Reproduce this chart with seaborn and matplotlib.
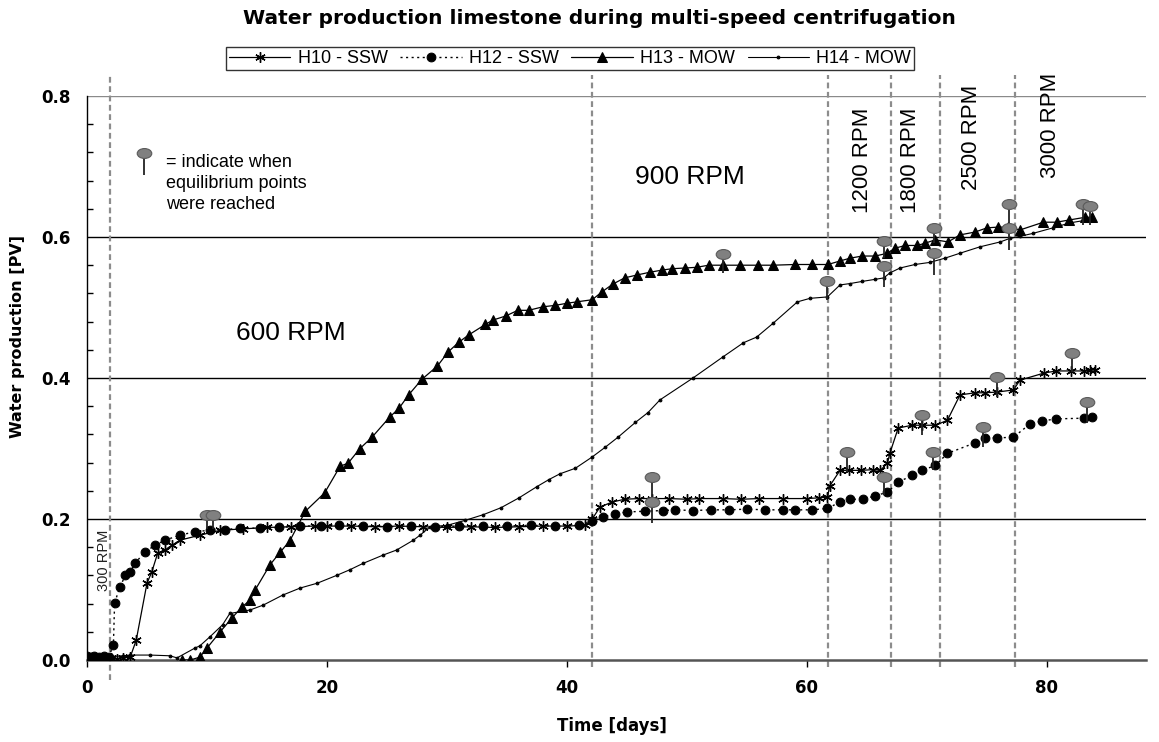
import numpy as np
import pandas as pd
import matplotlib
matplotlib.use("Agg")
import matplotlib.pyplot as plt
import seaborn as sns
from matplotlib.path import Path

# ---------------- data ----------------
h10_days = [0, 0.5, 1.0, 1.5, 2.0, 2.5, 3.0, 3.6, 4.1, 5.0, 5.4, 5.9, 6.5, 7.1, 7.75, 9.4, 11.1, 13, 15, 17,
            19, 20, 22, 24, 26, 28, 30, 32, 34, 36, 38, 40, 41.5, 42.1, 42.75, 43.75, 44.8, 46, 47.1, 48.5,
            50, 51, 53, 54.5, 56, 58, 60, 61, 61.7, 61.9, 62.75, 63.5, 64.5, 65.5, 66.1, 66.7, 66.9, 67.6,
            68.75, 69.6, 70.7, 71.7, 72.75, 74.0, 74.8, 75.8, 77.2, 77.75, 79.75, 80.75, 82.0, 83.1, 83.6, 84.0]
h10_pv = [0.003, 0.003, 0.002, 0.003, 0.003, 0.002, 0.003, 0.004, 0.028, 0.109, 0.125, 0.152, 0.156, 0.163,
          0.170, 0.177, 0.184, 0.186, 0.188, 0.189, 0.190, 0.190, 0.190, 0.189, 0.190, 0.189, 0.188, 0.189,
          0.188, 0.189, 0.190, 0.190, 0.191, 0.200, 0.217, 0.224, 0.228, 0.229, 0.229, 0.229, 0.228, 0.229,
          0.229, 0.228, 0.229, 0.229, 0.229, 0.230, 0.231, 0.247, 0.269, 0.269, 0.269, 0.270, 0.269, 0.279,
          0.293, 0.329, 0.333, 0.333, 0.333, 0.340, 0.376, 0.379, 0.379, 0.380, 0.383, 0.397, 0.407, 0.410,
          0.410, 0.410, 0.411, 0.412]

h12_days = [0, 0.3, 0.6, 1.0, 1.4, 1.8, 2.2, 2.3, 2.75, 3.2, 3.6, 4.0, 4.8, 5.7, 6.5, 7.75, 9.0, 10.25, 11.5,
            12.75, 14.4, 16, 17.75, 19.5, 21, 23, 25, 27, 29, 31, 33, 35, 37, 39, 41, 42.1, 43, 44, 45, 46.5,
            48, 49, 50.5, 52, 53.5, 55, 56.5, 58, 59, 60.4, 61.7, 62.75, 63.6, 64.7, 65.7, 66.7, 67.6, 68.75,
            69.6, 70.7, 71.7, 74.0, 74.8, 75.8, 77.2, 78.6, 79.6, 80.75, 83.1, 83.75]
h12_pv = [0.005, 0.004, 0.006, 0.004, 0.005, 0.004, 0.021, 0.081, 0.104, 0.120, 0.125, 0.137, 0.153, 0.163,
          0.170, 0.177, 0.182, 0.184, 0.185, 0.187, 0.187, 0.188, 0.190, 0.190, 0.191, 0.190, 0.189, 0.190,
          0.189, 0.190, 0.190, 0.190, 0.191, 0.190, 0.191, 0.197, 0.203, 0.207, 0.210, 0.211, 0.212, 0.213,
          0.212, 0.213, 0.213, 0.214, 0.213, 0.213, 0.213, 0.213, 0.215, 0.224, 0.228, 0.228, 0.233, 0.238,
          0.252, 0.262, 0.269, 0.276, 0.293, 0.308, 0.315, 0.315, 0.316, 0.335, 0.339, 0.342, 0.343, 0.345]

h13_days = [7.9, 8.6, 9.4, 10.0, 11.1, 12.1, 12.9, 13.6, 14.0, 15.25, 16.1, 16.9, 18.2, 19.8, 21.1, 21.75,
            22.75, 23.75, 25.25, 26.0, 26.8, 27.9, 29.2, 30.1, 31.0, 31.8, 33.2, 33.8, 34.9, 35.9, 36.8, 38.0,
            39.0, 40.0, 40.8, 42.1, 42.9, 43.8, 44.8, 45.8, 46.9, 47.9, 48.75, 49.8, 50.8, 51.8, 53.0, 54.4,
            55.9, 57.2, 59.0, 60.4, 61.75, 62.75, 63.6, 64.6, 65.7, 66.7, 67.3, 68.2, 69.2, 69.8, 70.7, 71.75,
            72.75, 74.0, 75.0, 75.9, 76.75, 77.75, 79.7, 80.8, 81.8, 83.2, 83.75]
h13_pv = [0.000, 0.000, 0.004, 0.017, 0.040, 0.060, 0.075, 0.085, 0.099, 0.135, 0.153, 0.169, 0.211, 0.237,
          0.275, 0.279, 0.300, 0.316, 0.345, 0.357, 0.376, 0.398, 0.417, 0.437, 0.451, 0.461, 0.476, 0.482,
          0.488, 0.496, 0.496, 0.501, 0.503, 0.506, 0.508, 0.511, 0.522, 0.533, 0.542, 0.546, 0.550, 0.553,
          0.555, 0.556, 0.557, 0.560, 0.560, 0.560, 0.560, 0.560, 0.561, 0.561, 0.561, 0.566, 0.570, 0.573,
          0.573, 0.577, 0.584, 0.588, 0.588, 0.591, 0.596, 0.593, 0.603, 0.607, 0.613, 0.614, 0.614, 0.610,
          0.621, 0.621, 0.624, 0.628, 0.628]

h14_days = [0, 1, 2, 3, 3.6, 5.25, 6.9, 7.5, 9.0, 9.4, 10.25, 11.3, 11.9, 13.6, 14.7, 16.3, 17.75, 19.2, 20.8,
            21.9, 23.0, 24.7, 25.8, 27.2, 27.75, 28.6, 30, 31.5, 33, 34.5, 36, 37.5, 38.5, 39.4, 40.7, 42.1,
            43.2, 44.25, 45.7, 46.75, 47.75, 50.5, 53.0, 54.7, 55.8, 57.2, 59.2, 60.25, 61.7, 62.75, 63.6,
            64.6, 65.7, 66.4, 66.9, 67.75, 69.0, 70.25, 71.5, 72.75, 74.4, 76.1, 76.9, 77.75, 78.8, 80.5,
            81.9, 83.3, 83.75]
h14_pv = [0.003, 0.004, 0.005, 0.006, 0.007, 0.007, 0.006, 0.003, 0.017, 0.020, 0.033, 0.050, 0.066, 0.071,
          0.078, 0.092, 0.102, 0.109, 0.120, 0.128, 0.137, 0.149, 0.156, 0.170, 0.177, 0.189, 0.191, 0.198,
          0.206, 0.216, 0.230, 0.246, 0.256, 0.264, 0.272, 0.288, 0.302, 0.316, 0.337, 0.351, 0.369, 0.400,
          0.430, 0.450, 0.458, 0.478, 0.508, 0.513, 0.515, 0.532, 0.534, 0.537, 0.540, 0.542, 0.549, 0.556,
          0.561, 0.564, 0.570, 0.577, 0.586, 0.593, 0.598, 0.601, 0.605, 0.613, 0.620, 0.624, 0.625]

# equilibrium pins: day, head value, stick bottom value
pin_days = [10.0, 10.5, 47.1, 47.1, 53.0, 61.7, 66.4, 66.4, 70.6, 70.6, 76.8, 76.8, 83.0, 83.6,
            63.3, 66.4, 69.6, 70.5, 74.7, 75.8, 82.1, 83.3]
pin_head = [0.206, 0.206, 0.259, 0.224, 0.576, 0.537, 0.559, 0.594, 0.577, 0.613, 0.647, 0.613, 0.647, 0.644,
            0.295, 0.260, 0.347, 0.295, 0.330, 0.401, 0.435, 0.366]
pin_base = [0.186, 0.186, 0.229, 0.194, 0.549, 0.510, 0.529, 0.570, 0.546, 0.591, 0.613, 0.581, 0.617, 0.617,
            0.267, 0.234, 0.319, 0.269, 0.302, 0.373, 0.408, 0.336]

rpm_change_days = [1.92, 42.08, 61.75, 67.0, 71.08, 77.33]
rpm_labels = ["300 RPM", "600 RPM", "900 RPM", "1200 RPM", "1800 RPM", "2500 RPM", "3000 RPM"]
series_labels = ["H10 - SSW", "H12 - SSW", "H13 - MOW", "H14 - MOW"]
title = "Water production limestone during multi-speed centrifugation"

# ---------------- style ----------------
sns.set_style("white")
plt.rcParams["font.family"] = ["Liberation Sans", "DejaVu Sans"]
plt.rcParams["text.color"] = "black"
plt.rcParams["axes.labelcolor"] = "black"
plt.rcParams["xtick.color"] = "black"
plt.rcParams["ytick.color"] = "black"

fig = plt.figure(figsize=(11.59, 7.42), dpi=100)
ax = fig.add_axes([87 / 1159, 82 / 742, (1146 - 87) / 1159, (660 - 96) / 742])
ax.set_xlim(0, 88.25)
ax.set_ylim(0, 0.8)

# horizontal grid lines
for yv, c in [(0.2, "black"), (0.4, "black"), (0.6, "black"), (0.8, "#8a8a8a")]:
    ax.axhline(yv, color=c, lw=1.0, zorder=1)

# vertical dashed rpm lines
for i, d in enumerate(rpm_change_days):
    ax.axvline(d, ymin=-0.035 if i == 0 else -0.012, ymax=1.037, color="#8c8c8c",
               lw=1.6, ls=(0, (2.6, 1.6)), clip_on=False, zorder=1)

# series
df10 = pd.DataFrame({"day": h10_days, "pv": h10_pv})
df12 = pd.DataFrame({"day": h12_days, "pv": h12_pv})
df13 = pd.DataFrame({"day": h13_days, "pv": h13_pv})
df14 = pd.DataFrame({"day": h14_days, "pv": h14_pv})

sns.lineplot(data=df10, x="day", y="pv", ax=ax, color="black", lw=0.9, marker=(6, 2, 0), ms=7.5,
             mew=1.0, mec="black", estimator=None, sort=False, label=series_labels[0], zorder=4)
sns.lineplot(data=df12, x="day", y="pv", ax=ax, color="black", lw=1.0, ls=(0, (1.5, 2.5)), marker="o",
             ms=6.3, mec="black", mfc="black", estimator=None, sort=False, label=series_labels[1], zorder=4)
sns.lineplot(data=df13, x="day", y="pv", ax=ax, color="black", lw=0.9, marker="^", ms=7,
             mec="black", mfc="black", estimator=None, sort=False, label=series_labels[2], zorder=4)
sns.lineplot(data=df14, x="day", y="pv", ax=ax, color="black", lw=0.8, marker="o", ms=2.0,
             mec="black", mfc="black", estimator=None, sort=False, label=series_labels[3], zorder=4)

# pins
circ = Path.unit_circle()
ellipse = Path(circ.vertices * np.array([1.0, 0.68]), circ.codes)
ax.vlines(pin_days, pin_base, pin_head, color="#222222", lw=1.3, zorder=5)
ax.scatter(pin_days, pin_head, marker=ellipse, s=110, facecolor="#808080", edgecolor="#5a5a5a",
           linewidths=0.8, zorder=6)

# key pin
key_pin_day = [4.75]
key_pin_head = [0.719]
key_pin_base = [0.688]
ax.vlines(key_pin_day, key_pin_base, key_pin_head, color="#222222", lw=1.3, zorder=5)
ax.scatter(key_pin_day, key_pin_head, marker=ellipse, s=110, facecolor="#808080", edgecolor="#5a5a5a",
           linewidths=0.8, zorder=6)
ax.text(6.6, 0.676, "= indicate when\nequilibrium points\nwere reached", fontsize=13,
        ha="left", va="center", linespacing=1.3)

# rpm labels
ax.text(1.45, 0.142, rpm_labels[0], rotation=90, fontsize=10.5, ha="center", va="center", color="#222222")
ax.text(17.0, 0.464, rpm_labels[1], fontsize=19, ha="center", va="center")
ax.text(50.2, 0.685, rpm_labels[2], fontsize=19, ha="center", va="center")
ax.text(64.6, 0.709, rpm_labels[3], rotation=90, fontsize=16, ha="center", va="center")
ax.text(68.6, 0.709, rpm_labels[4], rotation=90, fontsize=16, ha="center", va="center")
ax.text(73.7, 0.742, rpm_labels[5], rotation=90, fontsize=16, ha="center", va="center")
ax.text(80.25, 0.759, rpm_labels[6], rotation=90, fontsize=16, ha="center", va="center")

# axes styling
for s in ["top", "right"]:
    ax.spines[s].set_visible(False)
ax.spines["left"].set_color("black")
ax.spines["left"].set_linewidth(1.0)
ax.spines["bottom"].set_color("#555555")
ax.spines["bottom"].set_linewidth(1.8)
ax.set_xticks([0, 20, 40, 60, 80])
ax.set_yticks([0.0, 0.2, 0.4, 0.6, 0.8])
ax.set_yticklabels(["0.0", "0.2", "0.4", "0.6", "0.8"])
ax.set_yticks(np.arange(0, 0.8, 0.04), minor=True)
ax.tick_params(axis="y", which="major", direction="out", length=5, width=1, pad=7, labelsize=12, colors="black")
ax.tick_params(axis="y", which="minor", direction="in", length=4, width=1, left=True)
ax.tick_params(axis="x", which="major", direction="out", length=5, width=1, pad=9, labelsize=12, colors="black",
               bottom=True)
for lab in ax.get_xticklabels() + ax.get_yticklabels():
    lab.set_fontweight("bold")
    lab.set_family(["DejaVu Sans"])
ax.set_xlabel("")
ax.set_ylabel("")

fig.text(612 / 1159, 1 - 726 / 742, "Time [days]", fontsize=12, fontweight="bold", ha="center", va="center",
         family=["DejaVu Sans"])
fig.text(18 / 1159, 1 - 337 / 742, "Water production [PV]", fontsize=11.5, fontweight="bold", rotation=90,
         ha="center", va="center", family=["DejaVu Sans"])
fig.text(599 / 1159, 1 - 18 / 742, title, fontsize=14.5, fontweight="bold", ha="center", va="center",
         family=["DejaVu Sans"])

leg = ax.legend(loc="center", bbox_to_anchor=(570 / 1159, 1 - 58.5 / 742), bbox_transform=fig.transFigure,
                ncol=4, frameon=True, fancybox=False, shadow=False, fontsize=13, handlelength=3.4,
                handletextpad=0.4, columnspacing=0.7, borderpad=0.15, borderaxespad=0)
leg.get_frame().set_edgecolor("black")
leg.get_frame().set_linewidth(1.0)
for t in leg.get_texts():
    t.set_color("black")

fig.savefig("out.png", dpi=100, facecolor="white")
